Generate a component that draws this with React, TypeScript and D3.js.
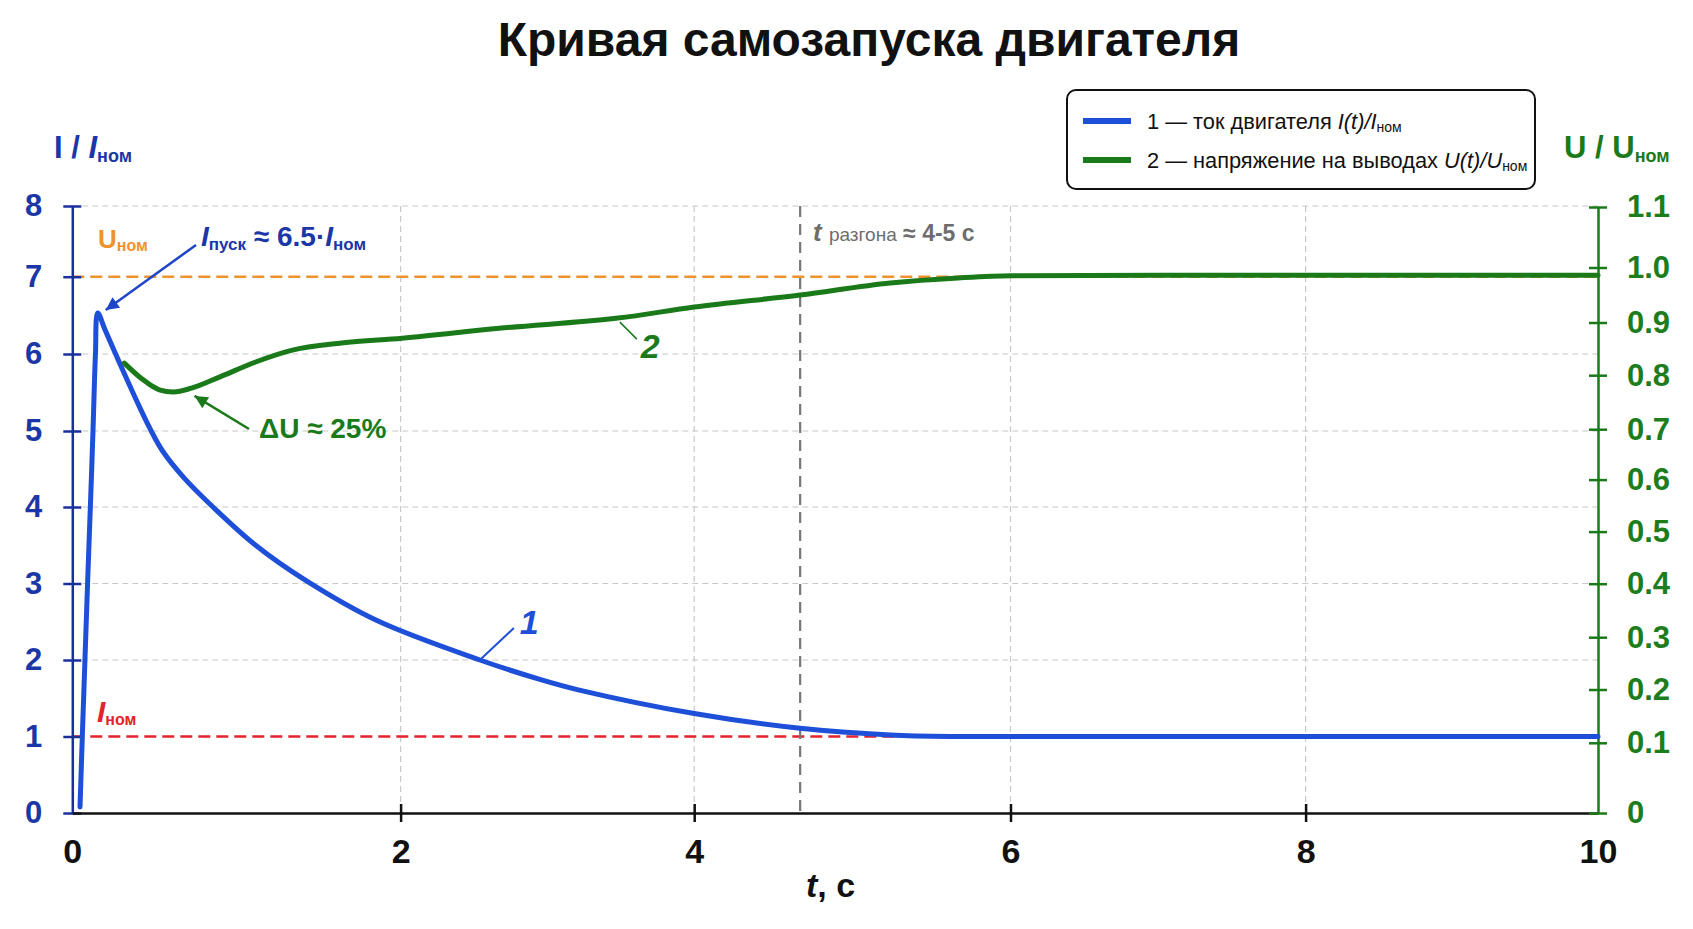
import React, { useEffect, useRef } from 'react';
import * as d3 from 'd3';

// curve 1: motor current I/Iном (left axis)
const currentTime = [0.047, 0.061, 0.077, 0.093, 0.11, 0.126, 0.141, 0.155, 0.2, 0.264, 0.3125, 0.394, 0.476, 0.55, 0.682, 0.857, 1.117, 1.422, 1.856, 2.54, 2.96, 3.21, 4.0, 4.67, 5.24, 5.66, 6.0, 8.0, 10.0];
const currentValue = [0.08, 1.0, 2.0, 3.0, 4.0, 5.0, 6.0, 6.53, 6.31, 6.0, 5.766, 5.383, 5.02, 4.737, 4.38, 4.0, 3.5, 3.04, 2.515, 2.0, 1.74, 1.61, 1.3, 1.107, 1.02, 1.0, 1.0, 1.0, 1.0];

// curve 2: terminal voltage U/Uном (right axis)
const voltageTime = [0.317, 0.421, 0.53, 0.617, 0.726, 0.9, 1.117, 1.335, 1.64, 2.01, 2.67, 3.48, 4.0, 4.67, 5.24, 5.67, 6.0, 7.0, 8.0, 10.0];
const voltageValue = [0.823, 0.794, 0.773, 0.769, 0.776, 0.797, 0.825, 0.847, 0.861, 0.87, 0.889, 0.908, 0.928, 0.95, 0.972, 0.981, 0.985, 0.986, 0.986, 0.986];

const timeTicks = [0, 2, 4, 6, 8, 10];
const currentTicks = [0, 1, 2, 3, 4, 5, 6, 7, 8];
const voltageTicks = [0, 0.1, 0.2, 0.3, 0.4, 0.5, 0.6, 0.7, 0.8, 0.9, 1.0, 1.1];

const currentNominal = 1; // Iном, left axis
const voltageNominalLevel = 7; // Uном dashed line, drawn on the left scale
const accelTime = 4.67; // t разгона marker
const peakIndex = 7;
const dipIndex = 3;
const label1Index = 19;
const label2Index = 11;

// pixel positions of the ticks in the picture (its spacing is not even)
const xRange = [72.3, 400.6, 694.2, 1010.5, 1305.6, 1598];
const yLeftRange = [813, 736.5, 660, 583.5, 507, 431, 354, 276.7, 206];
const yRightRange = [813, 742.8, 689.5, 637.2, 583.7, 531.6, 479.6, 429.2, 375.2, 322.5, 267.5, 207];

const W = 1693;
const H = 929;
const FONT = "'Liberation Sans', Arial, Helvetica, sans-serif";
const BLUE = '#1d4fd8';
const NAVY = '#1b36a6';
const GREEN = '#1a7a1a';
const ORANGE = '#f0922e';
const RED = '#e3232b';
const GRAY = '#6d6d6d';

const App: React.FC = () => {
  const svgRef = useRef<SVGSVGElement>(null);

  useEffect(() => {
    if (svgRef.current) drawChart(svgRef.current);
  }, []);

  return (
    <svg
      ref={svgRef}
      width={W}
      height={H}
      style={{ position: 'absolute', left: 0, top: 0, background: '#fff', fontFamily: FONT }}
    />
  );
};

const drawChart = (node: SVGSVGElement) => {
  const svg = d3.select(node);
  svg.selectAll('*').remove();

  const x = d3.scaleLinear().domain(timeTicks).range(xRange);
  const yL = d3.scaleLinear().domain(currentTicks).range(yLeftRange);
  const yR = d3.scaleLinear().domain(voltageTicks).range(yRightRange);

  const defs = svg.append('defs');
  const marker = (id: string, color: string) =>
    defs
      .append('marker')
      .attr('id', id)
      .attr('viewBox', '0 0 10 10')
      .attr('refX', 10)
      .attr('refY', 5)
      .attr('markerWidth', 17)
      .attr('markerHeight', 13)
      .attr('markerUnits', 'userSpaceOnUse')
      .attr('orient', 'auto')
      .append('path')
      .attr('d', 'M0,0 L10,5 L0,10 z')
      .attr('fill', color);
  marker('arrowBlue', '#1f45c8');
  marker('arrowGreen', GREEN);

  // title
  svg
    .append('text')
    .attr('x', 869)
    .attr('y', 56)
    .attr('text-anchor', 'middle')
    .style('font-size', '48px')
    .style('font-weight', 'bold')
    .attr('fill', '#111')
    .text('Кривая самозапуска двигателя');

  // grid
  const grid = svg.append('g');
  grid
    .selectAll('line.h')
    .data([2, 3, 4, 5, 6, 8])
    .enter()
    .append('line')
    .attr('x1', x(0))
    .attr('x2', x(10))
    .attr('y1', (d) => yL(d))
    .attr('y2', (d) => yL(d))
    .attr('stroke', '#c8c8c8')
    .attr('stroke-width', 1.2)
    .attr('stroke-dasharray', '6,4');
  grid
    .selectAll('line.v')
    .data([2, 4, 6, 8])
    .enter()
    .append('line')
    .attr('x1', (d) => x(d))
    .attr('x2', (d) => x(d))
    .attr('y1', yL(8))
    .attr('y2', yL(0))
    .attr('stroke', '#c8c8c8')
    .attr('stroke-width', 1.2)
    .attr('stroke-dasharray', '6,4');

  // reference lines
  svg
    .append('line')
    .attr('x1', x(0))
    .attr('x2', x(10))
    .attr('y1', yL(voltageNominalLevel))
    .attr('y2', yL(voltageNominalLevel))
    .attr('stroke', ORANGE)
    .attr('stroke-width', 2.5)
    .attr('stroke-dasharray', '12,6');
  svg
    .append('line')
    .attr('x1', x(0))
    .attr('x2', x(10))
    .attr('y1', yL(currentNominal))
    .attr('y2', yL(currentNominal))
    .attr('stroke', RED)
    .attr('stroke-width', 2.5)
    .attr('stroke-dasharray', '12,6');
  svg
    .append('line')
    .attr('x1', x(accelTime))
    .attr('x2', x(accelTime))
    .attr('y1', yL(8))
    .attr('y2', yL(0))
    .attr('stroke', '#777')
    .attr('stroke-width', 2.2)
    .attr('stroke-dasharray', '11,7');

  // axes
  const leftAxis = svg
    .append('g')
    .attr('transform', `translate(${x(0)},0)`)
    .call(d3.axisLeft(yL).tickValues(currentTicks).tickSizeInner(8).tickSizeOuter(0).tickPadding(22).tickFormat(d3.format('d')));
  leftAxis.selectAll('.tick line').attr('x1', -9).attr('x2', 9);
  leftAxis.select('.domain').attr('stroke', '#1a2f9c').attr('stroke-width', 2.5);
  leftAxis.selectAll('.tick line').attr('stroke', '#1a2f9c').attr('stroke-width', 2.5);
  leftAxis
    .selectAll('.tick text')
    .attr('fill', NAVY)
    .style('font-size', '31px')
    .style('font-weight', 'bold')
    .style('font-family', FONT);

  const bottomAxis = svg
    .append('g')
    .attr('transform', `translate(0,${yL(0)})`)
    .call(d3.axisBottom(x).tickValues(timeTicks).tickSizeInner(8).tickSizeOuter(0).tickPadding(18));
  bottomAxis.selectAll('.tick line').attr('y1', -9).attr('y2', 9).attr('stroke', '#111').attr('stroke-width', 2.5);
  bottomAxis.selectAll('.tick').filter((d: any) => d === 0 || d === 10).select('line').remove();
  bottomAxis.select('.domain').attr('stroke', '#111').attr('stroke-width', 2.5);
  bottomAxis
    .selectAll('.tick text')
    .attr('fill', '#111')
    .style('font-size', '34px')
    .style('font-weight', 'bold')
    .style('font-family', FONT);

  const rightAxis = svg
    .append('g')
    .attr('transform', `translate(${x(10)},0)`)
    .call(
      d3
        .axisRight(yR)
        .tickValues(voltageTicks)
        .tickSizeInner(8)
        .tickSizeOuter(0)
        .tickPadding(21)
        .tickFormat((d: any) => (d === 0 ? '0' : d3.format('.1f')(d)))
    );
  rightAxis.selectAll('.tick line').attr('x1', -9).attr('x2', 9).attr('stroke', GREEN).attr('stroke-width', 2.5);
  rightAxis.select('.domain').attr('stroke', GREEN).attr('stroke-width', 2.5);
  rightAxis
    .selectAll('.tick text')
    .attr('fill', '#1d7d1d')
    .style('font-size', '31px')
    .style('font-weight', 'bold')
    .style('font-family', FONT);

  // curves
  const currentLine = d3
    .line<number>()
    .x((d, i) => x(currentTime[i]))
    .y((d) => yL(d))
    .curve(d3.curveCatmullRom.alpha(0.5));
  const voltageLine = d3
    .line<number>()
    .x((d, i) => x(voltageTime[i]))
    .y((d) => yR(d))
    .curve(d3.curveMonotoneX);

  svg
    .append('path')
    .attr('d', currentLine(currentValue) || '')
    .attr('fill', 'none')
    .attr('stroke', BLUE)
    .attr('stroke-width', 5)
    .attr('stroke-linejoin', 'round')
    .attr('stroke-linecap', 'round');
  svg
    .append('path')
    .attr('d', voltageLine(voltageValue) || '')
    .attr('fill', 'none')
    .attr('stroke', GREEN)
    .attr('stroke-width', 5)
    .attr('stroke-linejoin', 'round')
    .attr('stroke-linecap', 'round');

  // curve labels with leaders
  const p1x = x(currentTime[label1Index]);
  const p1y = yL(currentValue[label1Index]);
  svg.append('line').attr('x1', p1x).attr('y1', p1y).attr('x2', p1x + 34).attr('y2', p1y - 32).attr('stroke', BLUE).attr('stroke-width', 2);
  svg
    .append('text')
    .attr('x', p1x + 40)
    .attr('y', p1y - 26)
    .attr('fill', BLUE)
    .style('font-size', '34px')
    .style('font-weight', 'bold')
    .style('font-style', 'italic')
    .text('1');

  const p2x = x(voltageTime[label2Index]);
  const p2y = yR(voltageValue[label2Index]);
  svg.append('line').attr('x1', p2x + 2).attr('y1', p2y + 4).attr('x2', p2x + 19).attr('y2', p2y + 21).attr('stroke', GREEN).attr('stroke-width', 1.5);
  svg
    .append('text')
    .attr('x', p2x + 23)
    .attr('y', p2y + 40)
    .attr('fill', GREEN)
    .style('font-size', '34px')
    .style('font-weight', 'bold')
    .style('font-style', 'italic')
    .text('2');

  // annotation arrows
  const peakX = x(currentTime[peakIndex]);
  const peakY = yL(currentValue[peakIndex]);
  svg
    .append('line')
    .attr('x1', 196)
    .attr('y1', 245)
    .attr('x2', peakX + 8)
    .attr('y2', peakY - 3)
    .attr('stroke', '#1f45c8')
    .attr('stroke-width', 2.5)
    .attr('marker-end', 'url(#arrowBlue)');

  const dipX = x(voltageTime[dipIndex]);
  const dipY = yR(voltageValue[dipIndex]);
  svg
    .append('line')
    .attr('x1', 249)
    .attr('y1', 429)
    .attr('x2', dipX + 21)
    .attr('y2', dipY + 4)
    .attr('stroke', GREEN)
    .attr('stroke-width', 2.5)
    .attr('marker-end', 'url(#arrowGreen)');

  // rich text helper: [text, fontSize, italic, bold, dy]
  type Part = [string, number, boolean, boolean, number];
  const rich = (px: number, py: number, color: string, parts: Part[], dx0 = 0) => {
    const t = svg.append('text').attr('x', px).attr('y', py).attr('fill', color);
    parts.forEach(([s, fs, it, b, dy], i) => {
      t.append('tspan')
        .attr('dy', dy)
        .attr('dx', i === 1 ? dx0 : 0)
        .style('font-size', `${fs}px`)
        .style('font-style', it ? 'italic' : 'normal')
        .style('font-weight', b ? 'bold' : 'normal')
        .text(s);
    });
    return t;
  };

  // axis titles
  rich(54, 158, NAVY, [
    ['I / ', 31, false, true, 0],
    ['I', 31, true, true, 0],
    ['ном', 18, false, true, 4],
  ]);
  rich(1564, 158, GREEN, [
    ['U / U', 31, false, true, 0],
    ['ном', 18, false, true, 4],
  ]);
  rich(806, 897, '#111', [
    ['t', 34, true, true, 0],
    [', с', 34, false, true, 0],
  ]);

  // annotations
  rich(98, 248, ORANGE, [
    ['U', 26, false, true, 0],
    ['ном', 16, false, true, 3],
  ]);
  rich(97, 722, RED, [
    ['I', 30, true, true, 0],
    ['ном', 16, false, true, 3],
  ]);
  rich(201, 246, NAVY, [
    ['I', 28, true, true, 0],
    ['пуск', 17, false, true, 4],
    [' ≈ 6.5·', 28, false, true, -4],
    ['I', 28, true, true, 0],
    ['ном', 17, false, true, 4],
  ]);
  rich(259, 438, GREEN, [['ΔU ≈ 25%', 28, false, true, 0]]);
  rich(
    813,
    241,
    GRAY,
    [
      ['t', 26, true, true, 0],
      [' разгона', 19, false, false, 0],
      [' ≈ 4-5 с', 23, false, true, 0],
    ],
    2
  );

  // legend
  const legend = svg.append('g');
  legend
    .append('rect')
    .attr('x', 1067)
    .attr('y', 90)
    .attr('width', 468)
    .attr('height', 99)
    .attr('rx', 9)
    .attr('fill', '#fff')
    .attr('stroke', '#111')
    .attr('stroke-width', 2);
  legend.append('line').attr('x1', 1083).attr('x2', 1131).attr('y1', 121).attr('y2', 121).attr('stroke', BLUE).attr('stroke-width', 6);
  legend.append('line').attr('x1', 1083).attr('x2', 1131).attr('y1', 160).attr('y2', 160).attr('stroke', GREEN).attr('stroke-width', 6);
  const lg = (py: number, lead: string, ital: string) => {
    const t = legend.append('text').attr('x', 1147).attr('y', py).attr('fill', '#111').style('font-size', '21.8px');
    t.append('tspan').text(lead);
    t.append('tspan').style('font-style', 'italic').text(ital);
    t.append('tspan').attr('dy', 3).style('font-size', '14px').text('ном');
  };
  lg(129, '1 — ток двигателя ', 'I(t)/I');
  lg(168, '2 — напряжение на выводах ', 'U(t)/U');
};

export default App;
